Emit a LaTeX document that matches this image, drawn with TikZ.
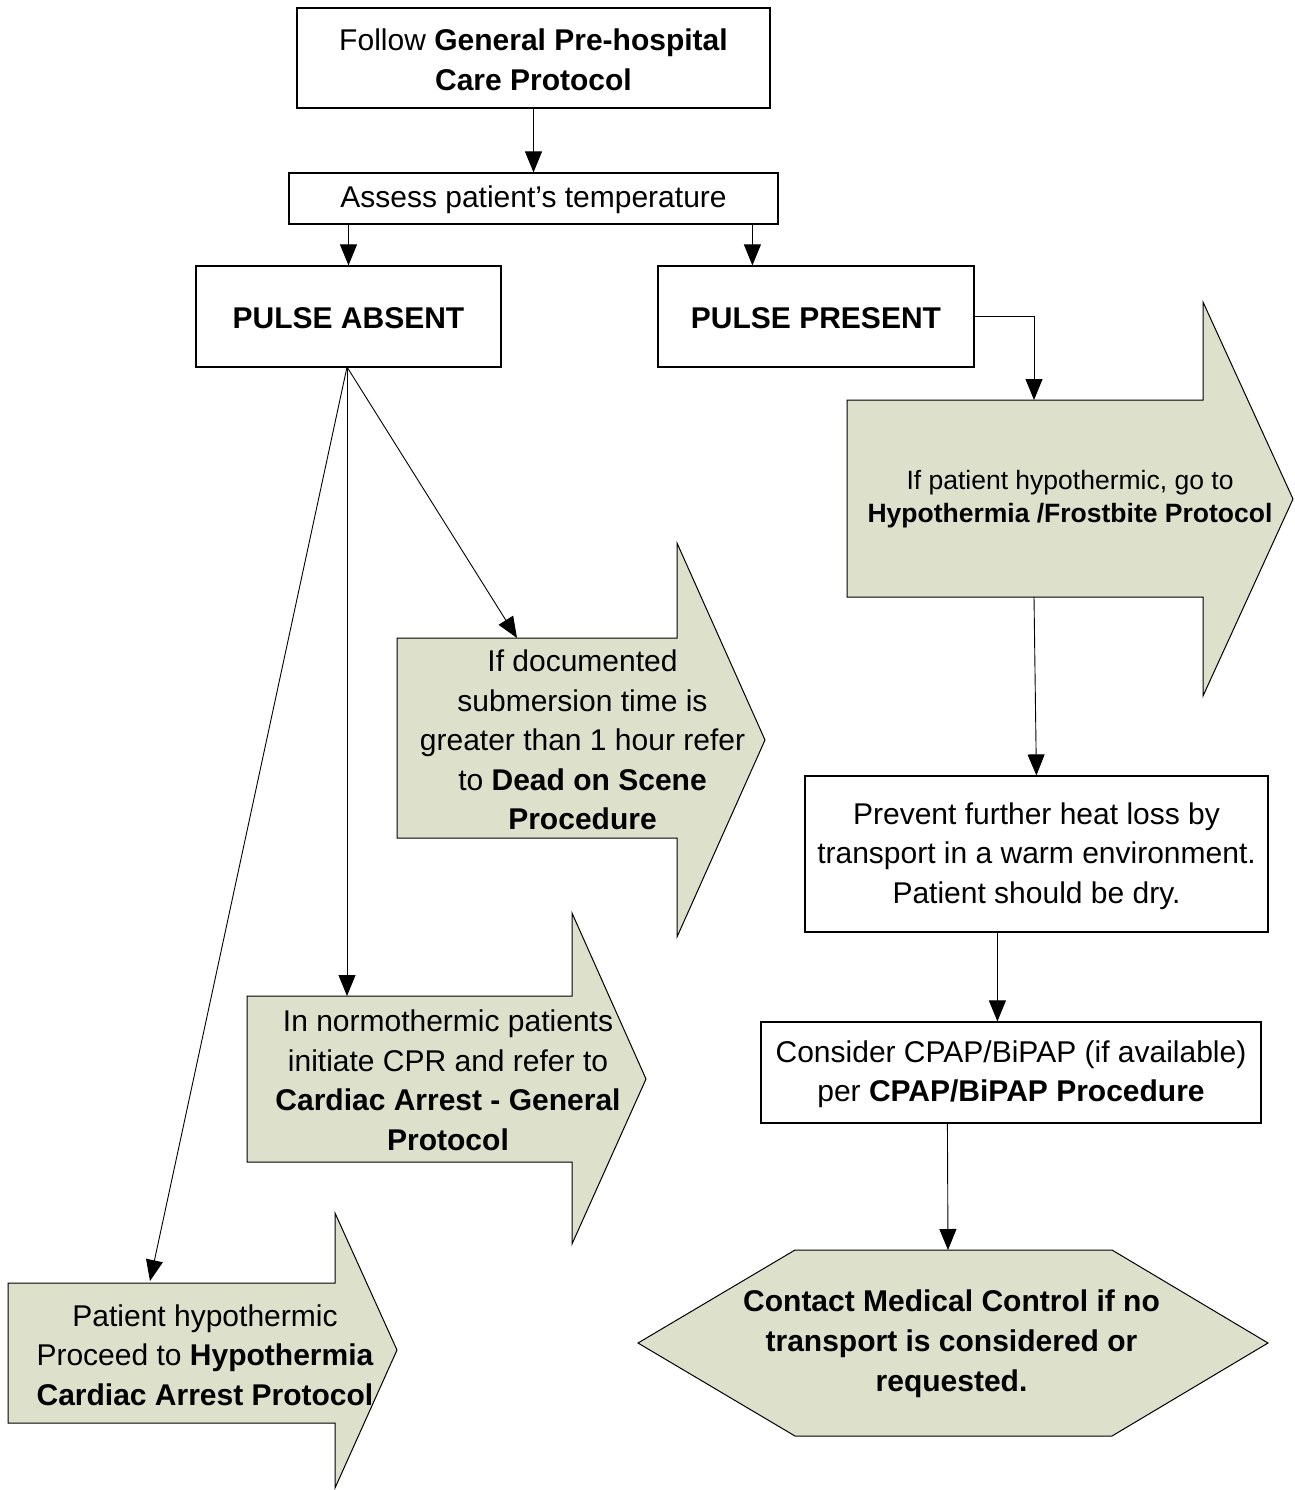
\documentclass[tikz,border=0pt]{standalone}
\usepackage{fontspec}
\setmainfont{Liberation Sans}
\usetikzlibrary{arrows.meta}
\definecolor{sage}{RGB}{221,224,203}
\begin{document}
\begin{tikzpicture}[x=1pt,y=-1pt,
  every node/.style={font=\fontsize{30}{39.5}\selectfont, align=center, inner sep=0pt},
  box/.style={draw=black, line width=1.2pt, fill=white},
  blk/.style={draw=black, line width=1pt, fill=sage},
  arr/.style={draw=black, line width=0.9pt, -{Triangle[length=21pt,width=17pt]}}]
\useasboundingbox (0,0) rectangle (1294,1490);

% process boxes (frame and text kept separate so text can sit slightly lower)
\node[box, minimum width=473pt, minimum height=100pt] (follow) at (533.5,58) {};
\node (follow-t) at (533.5,60)
  {Follow \textbf{General Pre-hospital}\\\textbf{Care Protocol}};
\node[box, minimum width=489pt, minimum height=51pt] (assess) at (533.5,198.5) {};
\node (assess-t) at (533.5,200) {Assess patient’s temperature};
\node[box, minimum width=305pt, minimum height=101pt] (absent) at (348.5,316.5) {};
\node (absent-t) at (348.5,318) {\textbf{PULSE ABSENT}};
\node[box, minimum width=316pt, minimum height=101pt] (present) at (816,316.5) {};
\node (present-t) at (816,318) {\textbf{PULSE PRESENT}};
\node[box, minimum width=463pt, minimum height=156pt] (warm) at (1036.5,854) {};
\node (warm-t) at (1036.5,856)
  {Prevent further heat loss by\\transport in a warm environment.\\Patient should be dry.};
\node[box, minimum width=500pt, minimum height=101pt] (cpap) at (1011,1072.5) {};
\node (cpap-t) at (1011,1074)
  {Consider CPAP/BiPAP (if available)\\per \textbf{CPAP/BiPAP Procedure}};

% block arrows
\path[blk] (847,400) -- (1203,400) -- (1203,302) -- (1293,499) -- (1203,696)
  -- (1203,597) -- (847,597) -- cycle;
\node[font=\fontsize{26.5}{33.5}\selectfont] (hypo) at (1070,499)
  {If patient hypothermic, go to\\\textbf{Hypothermia /Frostbite Protocol}};
\coordinate (hypo-in) at (1034,400);
\coordinate (hypo-out) at (1034,597);

\path[blk] (397,638) -- (677,638) -- (677,543) -- (765,740) -- (677,937)
  -- (677,838) -- (397,838) -- cycle;
\node (dead) at (582.5,740)
  {If documented\\submersion time is\\greater than 1 hour refer\\to \textbf{Dead on Scene}\\\textbf{Procedure}};
\coordinate (dead-in) at (517,638);

\path[blk] (247,996) -- (572,996) -- (572,913) -- (646,1079) -- (572,1244)
  -- (572,1162) -- (247,1162) -- cycle;
\node (cpr) at (448,1080.5)
  {In normothermic patients\\initiate CPR and refer to\\\textbf{Cardiac Arrest - General}\\\textbf{Protocol}};
\coordinate (cpr-in) at (347,996);

\path[blk] (8,1283) -- (335,1283) -- (335,1213) -- (397,1350) -- (335,1488)
  -- (335,1423) -- (8,1423) -- cycle;
\node (hca) at (205,1355)
  {Patient hypothermic\\Proceed to \textbf{Hypothermia}\\\textbf{Cardiac Arrest Protocol}};
\coordinate (hca-in) at (150,1281);

% final hexagon
\path[blk] (795,1250) -- (1112,1250) -- (1268,1343) -- (1112,1436)
  -- (795,1436) -- (638,1343) -- cycle;
\node[font=\fontsize{30}{40}\selectfont\bfseries] (contact) at (951.5,1344)
  {Contact Medical Control if no\\transport is considered or\\requested.};
\coordinate (contact-in) at (948,1250);

% connectors
\draw[arr] (follow.south) -- (assess.north);
\draw[arr] (assess.south -| absent.north) -- (absent.north);
\draw[arr] ([xshift=464pt]assess.south west) -- ([xshift=95pt]present.north west);
\coordinate (absent-out) at (347,367);
\draw[arr] (absent-out) -- (dead-in);
\draw[arr] (absent-out) -- (cpr-in);
\draw[arr] (absent-out) -- (hca-in);
\draw[arr] (present.east) -| (hypo-in);
\draw[arr] (hypo-out) -- ([xshift=232pt]warm.north west);
\draw[arr] ([xshift=193pt]warm.south west) -- ([xshift=237pt]cpap.north west);
\draw[arr] ([xshift=187pt]cpap.south west) -- (contact-in);
\end{tikzpicture}
\end{document}
